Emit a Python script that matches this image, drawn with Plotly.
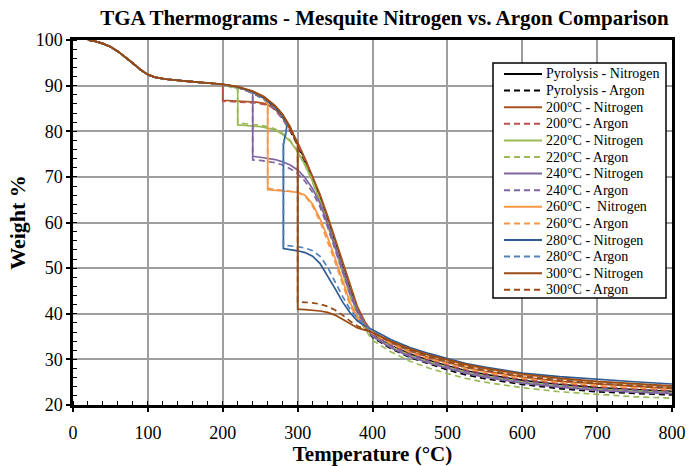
import plotly.graph_objects as go

# ---------------- data ----------------
T_early = [20, 30, 40, 50, 60, 70, 80, 90, 100, 110, 125, 150, 175, 200]
W_early = [100, 99.7, 99.2, 98.5, 97.5, 96.3, 94.9, 93.5, 92.4, 91.8, 91.4, 91.0, 90.7, 90.3]

T_tail = [400, 425, 450, 475, 500, 525, 550, 600, 650, 700, 750, 800]

# Pyrolysis
T_pyro = [220, 240, 255, 270, 280, 290, 300, 310, 320, 330, 340, 350, 360, 370, 380, 390]
W_pyro_N = [89.7, 88.6, 87.3, 85.2, 83.2, 80.6, 77.4, 73.8, 69.8, 65.4, 60.6, 55.6, 50.4, 45.4, 41.0, 37.8]
W_pyro_Ar = [89.6, 88.4, 87.0, 84.8, 82.8, 80.1, 76.9, 73.2, 69.2, 64.7, 59.8, 54.8, 49.6, 44.6, 40.4, 37.3]
tail_pyro_N = [35.4, 33.0, 31.2, 29.8, 28.6, 27.5, 26.7, 25.4, 24.5, 23.8, 23.4, 23.0]
tail_pyro_Ar = [34.8, 32.3, 30.4, 29.0, 27.7, 26.6, 25.8, 24.5, 23.6, 22.9, 22.5, 22.2]

# 200 C
T_200 = [200, 215, 230, 245, 255, 265, 270, 280, 290, 300, 310, 320, 330, 340, 350, 360, 370, 380, 390]
W_200_N = [86.8, 86.7, 86.6, 86.4, 86.1, 85.5, 84.9, 83.0, 80.5, 77.5, 74.0, 70.2, 66.1, 61.5, 56.5, 51.3, 46.1, 41.5, 38.2]
W_200_Ar = [86.6, 86.5, 86.4, 86.2, 85.9, 85.3, 84.6, 82.7, 80.2, 77.1, 73.5, 69.4, 65.0, 60.2, 55.2, 50.1, 45.1, 40.8, 37.8]
tail_200_N = [35.9, 33.6, 31.8, 30.4, 29.3, 28.2, 27.4, 26.1, 25.2, 24.6, 24.1, 23.6]
tail_200_Ar = [35.6, 33.2, 31.4, 30.0, 28.8, 27.7, 26.9, 25.6, 24.7, 24.0, 23.5, 23.1]

# 220 C
T_220_N = [210, 220, 220, 220, 230, 240, 250, 260, 270, 280, 290, 300, 310, 320, 330, 340, 350, 360, 370, 380, 390]
W_220_N = [89.8, 89.4, 88.6, 81.4, 81.3, 81.2, 81.0, 80.7, 80.3, 79.3, 77.8, 75.5, 72.6, 69.0, 64.8, 60.0, 55.0, 49.8, 44.8, 40.5, 37.6]
T_220_Ar = [210, 220, 220, 230, 240, 250, 260, 270, 280, 290, 300, 310, 320, 330, 340, 350, 360, 370, 380, 390]
W_220_Ar = [89.7, 89.2, 81.8, 81.7, 81.5, 81.3, 81.0, 80.5, 79.5, 78.0, 75.6, 72.5, 68.8, 64.4, 59.5, 54.3, 49.0, 43.8, 39.5, 36.6]
tail_220_N = [35.2, 32.8, 30.9, 29.5, 28.3, 27.2, 26.4, 25.1, 24.2, 23.5, 23.1, 22.7]
tail_220_Ar = [34.2, 31.6, 29.6, 28.1, 26.9, 25.8, 25.0, 23.8, 22.9, 22.3, 21.8, 21.5]

# 240 C
T_240 = [220, 235, 240, 240, 250, 260, 270, 280, 290, 300, 310, 320, 330, 340, 350, 360, 370, 380, 390]
W_240_N = [89.7, 88.8, 88.3, 74.5, 74.3, 74.1, 73.8, 73.3, 72.6, 71.5, 69.8, 67.4, 64.2, 59.8, 55.0, 49.9, 44.8, 40.6, 37.7]
W_240_Ar = [89.6, 88.7, 88.2, 73.7, 73.6, 73.4, 73.1, 72.6, 71.8, 70.7, 69.0, 66.6, 63.4, 59.0, 54.2, 49.2, 44.2, 40.2, 37.5]
tail_240_N = [35.0, 32.5, 30.6, 29.2, 28.0, 26.9, 26.1, 24.8, 23.9, 23.2, 22.8, 22.5]
tail_240_Ar = [35.3, 32.9, 31.0, 29.6, 28.4, 27.3, 26.5, 25.2, 24.3, 23.6, 23.2, 22.8]

# 260 C
T_260 = [220, 240, 255, 260, 260, 270, 280, 290, 300, 310, 320, 330, 340, 350, 360, 370, 380, 390]
W_260_N = [89.7, 88.6, 87.3, 86.0, 67.2, 67.0, 66.9, 66.8, 66.6, 66.0, 64.0, 60.8, 56.8, 52.2, 47.3, 42.5, 39.2, 37.4]
W_260_Ar = [89.6, 88.5, 87.1, 85.8, 67.5, 67.3, 67.1, 66.9, 66.6, 65.8, 63.6, 60.2, 56.0, 51.4, 46.5, 41.9, 38.8, 37.1]
tail_260_N = [36.0, 33.9, 32.2, 30.9, 29.8, 28.7, 27.9, 26.6, 25.7, 25.0, 24.5, 24.0]
tail_260_Ar = [35.7, 33.4, 31.6, 30.2, 29.1, 28.0, 27.2, 25.9, 25.0, 24.3, 23.8, 23.4]

# 280 C
T_280 = [220, 240, 255, 270, 280, 286, 284, 281, 281, 290, 300, 310, 320, 330, 340, 350, 360, 370, 380, 390]
W_280_N = [89.7, 88.6, 87.3, 85.2, 83.3, 81.6, 79.5, 77.2, 54.3, 54.1, 53.8, 53.4, 52.6, 51.0, 48.4, 45.5, 42.6, 40.2, 38.4, 37.3]
W_280_Ar = [89.6, 88.5, 87.1, 85.0, 83.0, 81.3, 79.2, 77.0, 55.0, 54.9, 54.7, 54.4, 53.8, 52.6, 50.2, 47.0, 43.8, 41.0, 38.9, 37.5]
tail_280_N = [36.5, 34.3, 32.6, 31.3, 30.2, 29.1, 28.3, 27.0, 26.2, 25.6, 25.1, 24.6]
tail_280_Ar = [36.1, 33.8, 32.0, 30.7, 29.6, 28.5, 27.7, 26.4, 25.5, 24.8, 24.3, 23.8]

# 300 C
T_300 = [220, 240, 255, 270, 280, 290, 300, 300, 310, 320, 330, 340, 350, 360, 370, 380, 390]
W_300_N = [89.8, 88.8, 87.6, 85.6, 83.7, 81.0, 77.0, 41.0, 40.9, 40.8, 40.6, 40.3, 39.7, 38.8, 37.8, 36.9, 36.4]
W_300_Ar = [89.7, 88.7, 87.4, 85.4, 83.5, 80.8, 76.8, 42.6, 42.5, 42.4, 42.1, 41.6, 40.8, 39.7, 38.4, 37.3, 36.6]
tail_300_N = [35.9, 33.9, 32.3, 31.0, 29.9, 28.9, 28.1, 26.8, 25.9, 25.2, 24.7, 24.2]
tail_300_Ar = [35.9, 33.8, 32.1, 30.7, 29.6, 28.5, 27.6, 26.3, 25.4, 24.7, 24.2, 23.7]

# ---------------- figure ----------------
series = [
    ("Pyrolysis - Nitrogen", T_pyro, W_pyro_N, tail_pyro_N, "#000000", "solid"),
    ("Pyrolysis - Argon", T_pyro, W_pyro_Ar, tail_pyro_Ar, "#000000", "dash"),
    ("200°C - Nitrogen", T_200, W_200_N, tail_200_N, "#A5521C", "solid"),
    ("200°C - Argon", T_200, W_200_Ar, tail_200_Ar, "#C0504D", "dash"),
    ("220°C - Nitrogen", T_220_N, W_220_N, tail_220_N, "#9BBB59", "solid"),
    ("220°C - Argon", T_220_Ar, W_220_Ar, tail_220_Ar, "#9BBB59", "dash"),
    ("240°C - Nitrogen", T_240, W_240_N, tail_240_N, "#8064A2", "solid"),
    ("240°C - Argon", T_240, W_240_Ar, tail_240_Ar, "#8064A2", "dash"),
    ("260°C - \u00a0Nitrogen", T_260, W_260_N, tail_260_N, "#F79646", "solid"),
    ("260°C - Argon", T_260, W_260_Ar, tail_260_Ar, "#F79646", "dash"),
    ("280°C - Nitrogen", T_280, W_280_N, tail_280_N, "#2D5B93", "solid"),
    ("280°C - Argon", T_280, W_280_Ar, tail_280_Ar, "#4F81BD", "dash"),
    ("300°C - Nitrogen", T_300, W_300_N, tail_300_N, "#9A4A12", "solid"),
    ("300°C - Argon", T_300, W_300_Ar, tail_300_Ar, "#9A4A12", "dash"),
]

serif = "Liberation Serif, Times New Roman, serif"
DASH = "6px,4px"

# plot area in pixels (for legend placement)
PL, PR, PT, PB = 73, 672, 40, 405
def px_x(p):
    return (p - PL) / (PR - PL)
def px_y(p):
    return (PB - p) / (PB - PT)

fig = go.Figure()
shapes = []
annotations = []
row0, row_h = 74, 16.6
for i, (name, tm, wm, wt, color, dash) in enumerate(series):
    x = T_early + tm + T_tail
    y = W_early + wm + wt
    d = DASH if dash == "dash" else "solid"
    fig.add_trace(go.Scatter(
        x=x, y=y, mode="lines", name=name, showlegend=False,
        line=dict(color=color, width=1.7, dash=d),
    ))
    ry = row0 + i * row_h
    shapes.append(dict(type="line", xref="paper", yref="paper",
                       x0=px_x(504), x1=px_x(542), y0=px_y(ry), y1=px_y(ry),
                       line=dict(color=color, width=2, dash=d)))
    annotations.append(dict(xref="paper", yref="paper", x=px_x(544), y=px_y(ry),
                            xanchor="left", yanchor="middle", showarrow=False,
                            text=name, font=dict(size=14, family=serif, color="black")))

# legend box
shapes.insert(0, dict(type="rect", xref="paper", yref="paper",
                      x0=px_x(493), x1=px_x(666), y0=px_y(298), y1=px_y(63),
                      fillcolor="white", line=dict(color="black", width=1.5), layer="above"))

fig.update_layout(
    width=688, height=466,
    margin=dict(l=PL, r=688 - PR, t=PT, b=466 - PB, autoexpand=False),
    paper_bgcolor="white", plot_bgcolor="white",
    font=dict(family=serif, color="black"),
    title=dict(text="<b>TGA Thermograms - Mesquite Nitrogen vs. Argon Comparison</b>",
               x=384.5 / 688, xanchor="center", xref="container",
               y=1 - 18 / 466, yanchor="middle", font=dict(size=21, family=serif)),
    shapes=shapes,
    annotations=annotations,
    showlegend=False,
)
fig.update_xaxes(
    range=[0, 800], dtick=100, tick0=0, automargin=False,
    showline=True, linecolor="black", linewidth=2.5, mirror=True,
    showgrid=True, gridcolor="#9e9e9e", gridwidth=1.6,
    ticks="outside", ticklen=4, tickcolor="black", tickwidth=1.5,
    ticklabelstandoff=6,
    minor=dict(dtick=20, ticks="inside", ticklen=4, tickcolor="black", tickwidth=1, showgrid=False),
    tickfont=dict(size=18, family=serif),
    title=dict(text="<b>Temperature (°C)</b>", font=dict(size=21, family=serif), standoff=10),
    zeroline=False,
)
fig.update_yaxes(
    range=[20, 100], dtick=10, tick0=20, automargin=False,
    showline=True, linecolor="black", linewidth=2.5, mirror=True,
    showgrid=True, gridcolor="#9e9e9e", gridwidth=1.6,
    ticks="outside", ticklen=4, tickcolor="black", tickwidth=1.5,
    minor=dict(dtick=2, ticks="inside", ticklen=4, tickcolor="black", tickwidth=1, showgrid=False),
    tickfont=dict(size=18, family=serif),
    title=dict(text="<b>Weight %</b>", font=dict(size=22, family=serif), standoff=4),
    zeroline=False,
)

fig.write_html("out.html")
